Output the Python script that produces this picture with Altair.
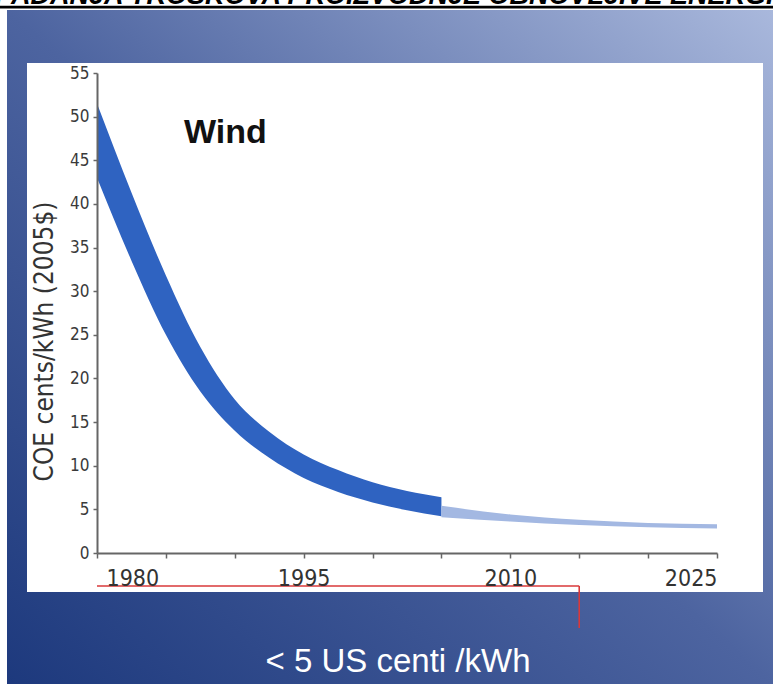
import altair as alt
import pandas as pd

# Wind cost-of-energy band, cents/kWh (2005 $)
years_hist = [1980, 1982.5, 1985, 1987.5, 1990, 1992.5, 1995, 1997.5, 2000, 2002.5, 2005]
high_hist = [51.5, 41.3, 31.8, 23.6, 17.6, 13.9, 11.3, 9.5, 8.1, 7.1, 6.4]
low_hist = [43.0, 33.5, 25.0, 18.5, 14.0, 10.9, 8.6, 7.0, 5.8, 4.9, 4.2]

years_proj = [2005, 2010, 2015, 2020, 2025]
high_proj = [5.4, 4.4, 3.8, 3.45, 3.3]
low_proj = [4.1, 3.6, 3.2, 2.95, 2.8]

x_ticks = [1980, 1985, 1990, 1995, 2000, 2005, 2010, 2015, 2020, 2025]
y_ticks = [0, 5, 10, 15, 20, 25, 30, 35, 40, 45, 50, 55]

marker_years = [1980, 2015]

header = "PADANJA TROŠKOVA PROIZVODNJE OBNOVLJIVE ENERGIJE"
panel_label = "Wind"
footer = "< 5 US centi /kWh"
y_title = "COE cents/kWh (2005$)"

W, H = 620, 480
LEFT, TOP = 97, 73
TOTAL_W, TOTAL_H = 773, 684

NARROW = "Liberation Sans Narrow, DejaVu Sans Condensed, sans-serif"
SANS = "Liberation Sans, Arial, sans-serif"

hist = pd.DataFrame({"year": years_hist, "high": high_hist, "low": low_hist})
proj = pd.DataFrame({"year": years_proj, "high": high_proj, "low": low_proj})
one = pd.DataFrame({"k": [0]})

x_scale = alt.Scale(domain=[1980, 2025], nice=False, zero=False)
y_scale = alt.Scale(domain=[0, 55], nice=False)

x_axis = alt.Axis(
    values=x_ticks, format="d", title=None, grid=False,
    labelExpr="datum.value % 15 == 0 ? datum.label : ''",
    labelFont=NARROW, labelFontSize=23, labelColor="#333333",
    labelPadding=9, tickSize=5, tickColor="#666666", tickWidth=1.5,
    domainColor="#666666", domainWidth=2, labelOverlap=False,
    labelOffset={"condition": {"test": "datum.value == 1980", "value": 9}, "value": 0},
    zindex=1,
)
y_axis = alt.Axis(
    values=y_ticks, title=y_title, grid=False,
    labelFont=NARROW, labelFontSize=17, labelColor="#3a3a3a",
    labelPadding=4, tickSize=4, tickColor="#666666", tickWidth=1.5,
    domainColor="#666666", domainWidth=2,
    titleFont=NARROW, titleFontSize=26, titleFontWeight="normal", titleColor="#333333",
    titleAngle=-90, titleX=-53, titleY=268, titleAlign="center", titleBaseline="middle",
    zindex=1,
)

# slide background with diagonal gradient
background = alt.Chart(one).mark_rect(
    fill=alt.LinearGradient(
        gradient="linear",
        stops=[
            alt.GradientStop(color="#1d397d", offset=0),
            alt.GradientStop(color="#4d64a0", offset=0.5),
            alt.GradientStop(color="#a9b8dc", offset=1),
        ],
        x1=0, y1=1, x2=1, y2=0,
    )
).encode(
    x=alt.value(7 - LEFT), x2=alt.value(TOTAL_W - LEFT),
    y=alt.value(10 - TOP), y2=alt.value(TOTAL_H - TOP),
)

panel = alt.Chart(one).mark_rect(fill="#ffffff").encode(
    x=alt.value(27 - LEFT), x2=alt.value(763 - LEFT),
    y=alt.value(63 - TOP), y2=alt.value(592 - TOP),
)

head_text = alt.Chart(pd.DataFrame({"t": [header]})).mark_text(
    font=SANS, fontSize=27, fontWeight="bold", fontStyle="italic",
    color="#000000", align="left", baseline="alphabetic",
).encode(text="t:N", x=alt.value(-5 - LEFT), y=alt.value(4 - TOP))

head_rule = alt.Chart(one).mark_rule(color="#000000", strokeWidth=2.6).encode(
    x=alt.value(-LEFT), x2=alt.value(TOTAL_W - LEFT), y=alt.value(7.1 - TOP),
)

band_hist = alt.Chart(hist).mark_area(color="#2f63c1", interpolate="monotone").encode(
    x=alt.X("year:Q", scale=x_scale, axis=x_axis),
    y=alt.Y("high:Q", scale=y_scale, axis=y_axis),
    y2="low:Q",
)

band_proj = alt.Chart(proj).mark_area(color="#a3b8e2", interpolate="monotone").encode(
    x=alt.X("year:Q", scale=x_scale, axis=x_axis),
    y=alt.Y("high:Q", scale=y_scale, axis=y_axis),
    y2="low:Q",
)

wind_text = alt.Chart(pd.DataFrame({"t": [panel_label]})).mark_text(
    font=SANS, fontSize=34, fontWeight="bold", color="#111111",
    align="left", baseline="alphabetic",
).encode(text="t:N", x=alt.value(184 - LEFT), y=alt.value(143 - TOP))

foot_text = alt.Chart(pd.DataFrame({"t": [footer]})).mark_text(
    font=SANS, fontSize=33, color="#ffffff", align="center", baseline="alphabetic",
).encode(text="t:N", x=alt.value(398 - LEFT), y=alt.value(672 - TOP))

markers = pd.DataFrame({"year": [marker_years[0]], "end": [marker_years[1]]})
red_h = alt.Chart(markers).mark_rule(color="#d9383a", strokeWidth=1.6).encode(
    x=alt.X("year:Q", scale=x_scale, axis=x_axis),
    x2="end:Q",
    y=alt.value(586 - TOP),
)
red_v = alt.Chart(markers).mark_rule(color="#d9383a", strokeWidth=1.6).encode(
    x=alt.X("end:Q", scale=x_scale, axis=x_axis),
    y=alt.value(586 - TOP), y2=alt.value(628 - TOP),
)

chart = alt.layer(
    background, panel, head_text, head_rule,
    band_hist, band_proj, wind_text, red_h, red_v, foot_text,
).properties(
    width=W, height=H,
    padding={"left": LEFT, "top": TOP, "right": TOTAL_W - LEFT - W, "bottom": TOTAL_H - TOP - H},
    autosize="none",
    background="#ffffff",
).configure_view(stroke=None)

chart.save("out.html", embed_options={"renderer": "svg", "actions": False})
